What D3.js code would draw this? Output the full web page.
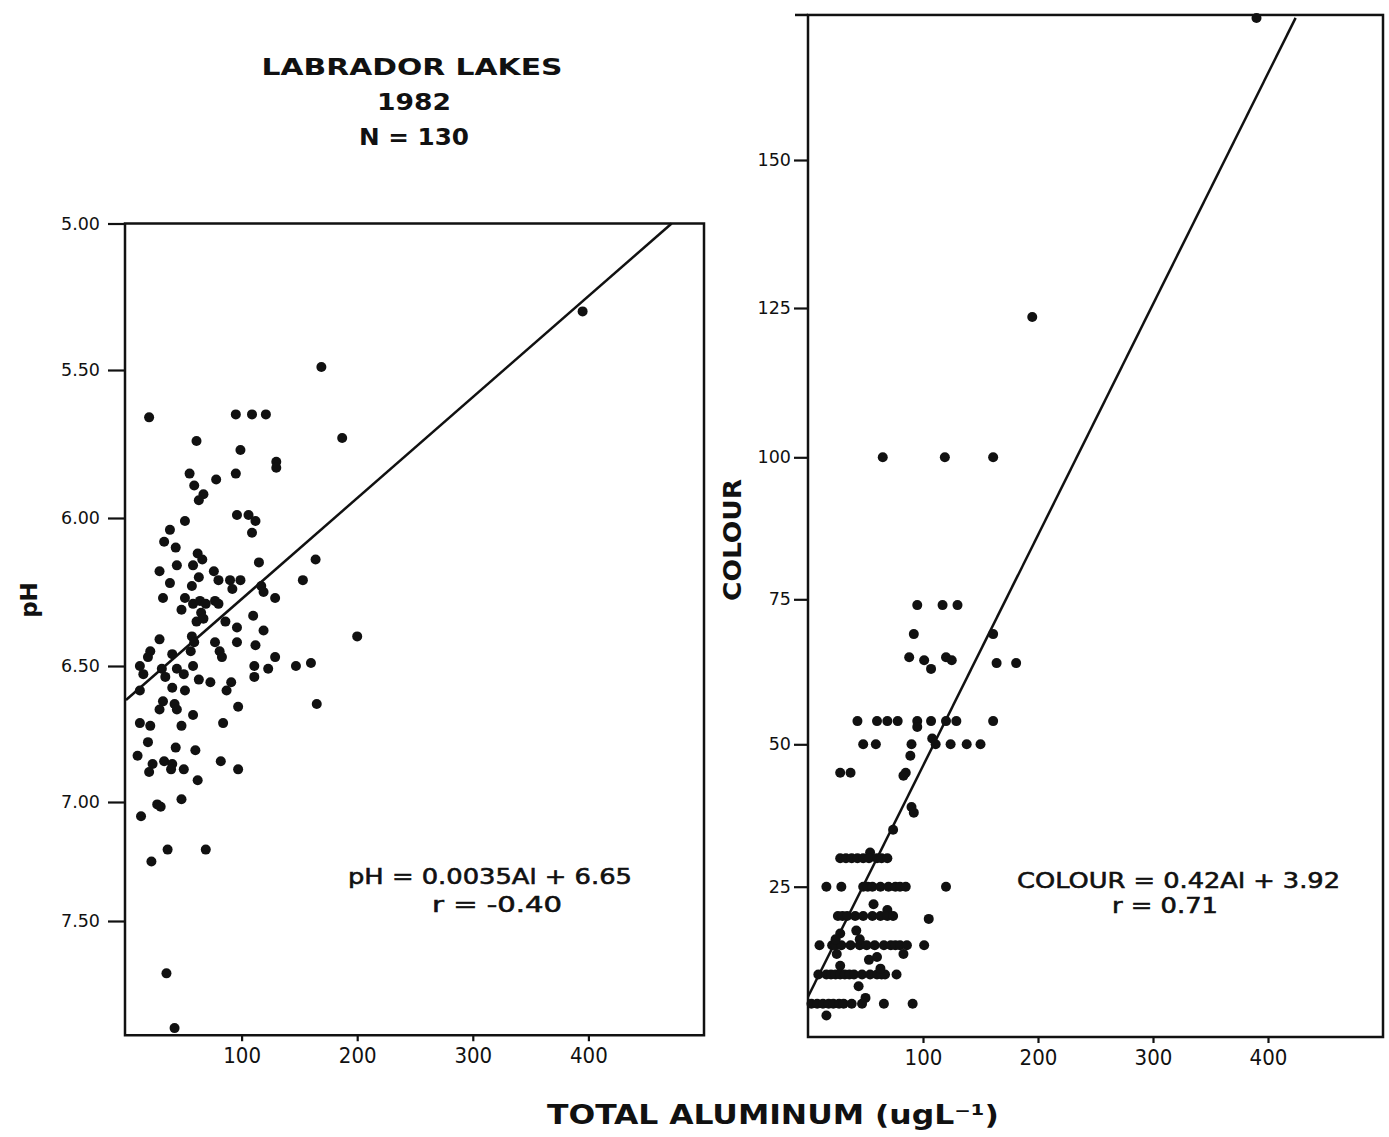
<!DOCTYPE html>
<html>
<head>
<meta charset="utf-8">
<script src="https://cdn.jsdelivr.net/npm/d3@7"></script>
<style>
  html, body { margin: 0; padding: 0; background: #fff; }
  svg { display: block; }
  .tick text { font-family: "DejaVu Sans", sans-serif; fill: #111; }
  .tick line { stroke: #111; stroke-width: 2.2; }
</style>
</head>
<body>
<svg id="chart" width="1389" height="1137"></svg>
<script>
// ---------------- DATA ----------------
const titleLines = ["LABRADOR LAKES", "1982", "N = 130"];
const phTicks = [5.00, 5.50, 6.00, 6.50, 7.00, 7.50];
const colourTicks = [25, 50, 75, 100, 125, 150];
const alTicks = [100, 200, 300, 400];

// [total aluminum (ug/L), pH]
const phPoints = [
  [169,5.49],[20,5.66],[95,5.65],[109,5.65],[121,5.65],[61,5.74],[187,5.73],[99,5.77],
  [130,5.81],[130,5.83],[55,5.85],[59,5.89],[78,5.87],[95,5.85],[67,5.92],[63,5.94],
  [51,6.01],[96,5.99],[106,5.99],[112,6.01],[109,6.05],[38,6.04],[33,6.08],[43,6.10],
  [62,6.12],[66,6.14],[58,6.16],[44,6.16],[115,6.15],[164,6.14],[29,6.18],[38,6.22],
  [63,6.20],[76,6.18],[80,6.21],[90,6.21],[99,6.21],[92,6.24],[117,6.23],[119,6.25],
  [153,6.21],[129,6.27],[57,6.23],[32,6.27],[51,6.27],[58,6.29],[64,6.28],[69,6.29],
  [77,6.28],[80,6.29],[48,6.31],[110,6.33],[65,6.32],[61,6.35],[67,6.34],[86,6.35],
  [96,6.37],[119,6.38],[200,6.40],[29,6.41],[57,6.40],[59,6.42],[77,6.42],[81,6.45],
  [83,6.47],[96,6.42],[112,6.43],[129,6.47],[21,6.45],[19,6.47],[40,6.46],[56,6.45],
  [12,6.50],[15,6.53],[31,6.51],[34,6.54],[44,6.51],[50,6.53],[58,6.50],[111,6.50],
  [111,6.54],[123,6.51],[147,6.50],[160,6.49],[63,6.55],[73,6.56],[91,6.56],[87,6.59],
  [12,6.59],[40,6.58],[51,6.59],[165,6.64],[97,6.65],[32,6.63],[29,6.66],[42,6.64],
  [44,6.66],[58,6.68],[12,6.71],[21,6.72],[48,6.72],[84,6.71],[19,6.78],[43,6.80],
  [60,6.81],[10,6.83],[33,6.85],[40,6.86],[39,6.88],[50,6.88],[23,6.86],[20,6.89],
  [82,6.85],[97,6.88],[62,6.92],[48,6.99],[27,7.01],[30,7.02],[13,7.06],[36,7.20],
  [69,7.20],[22,7.25],[35,7.72],[42,7.95],[395,5.30]
];

// [total aluminum (ug/L), colour]
const colourPoints = [
  [65,100],[119,100],[161,100],
  [95,74],[117,74],[130,74],
  [92,69],[161,69],
  [88,65],[101,64.5],[107,63],[120,65],[125,64.5],[164,64],[181,64],
  [43,54],[60,54],[69,54],[78,54],[95,54],[95,53],[107,54],[120,54],[129,54],[161,54],
  [48,50],[59,50],[90,50],[108,51],[111,50],[124,50],[138,50],[150,50],[89,48],
  [28,45],[37,45],[85,45],[83,44.5],
  [90,39],[92,38],
  [74,35],[54,31],
  [28,30],[33,30],[38,30],[43,30],[48,30],[53,30],[60,30],[64,30],[69,30],
  [16,25],[29,25],[48,25],[52,25],[56,25],[63,25],[70,25],[76,25],[80,25],[85,25],[120,25],
  [57,22],[69,21],
  [26,20],[30,20],[34,20],[41,20],[48,20],[56,20],[63,20],[69,20],[74,20],[105,19.5],
  [28,17],[42,17.5],
  [10,15],[21,15],[24,15],[29,15],[37,15],[45,15],[51,15],[58,15],[66,15],[72,15],[76,15],[80,15],[86,15],[101,15],
  [24,16],[25,13.5],[45,16],[53,12.5],[60,13],[83,13.5],
  [28,11.5],
  [9,10],[16,10],[20,10],[24,10],[28,10],[32,10],[36,10],[40,10],[47,10],[54,10],[60,10],[64,10],[67,10],[77,10],
  [63,11],
  [44,8],[50,6],
  [3,5],[8,5],[13,5],[18,5],[22,5],[27,5],[31,5],[38,5],[47,5],[66,5],[91,5],
  [16,3],
  [195,123.5],[390,174]
];

// regression lines as drawn [Al, value]
const phFit = [[0, 6.625], [472, 5.0]];
const colourFit = [[0, 6.2], [424, 174]];

const phEquation = ["pH = 0.0035Al + 6.65", "r = -0.40"];
const colourEquation = ["COLOUR = 0.42Al + 3.92", "r =  0.71"];
const xTitle = "TOTAL  ALUMINUM (ugL\u207B\u00B9)";

// ---------------- LAYOUT ----------------
const svg = d3.select("#chart");
const ink = "#111";
const sw = 2.5;
const dotR = 5;

// Left panel scales (piecewise to follow the drawn tick spacing)
const xL = d3.scaleLinear().domain([0, 500]).range([126, 704]);
const yL = d3.scaleLinear()
  .domain([5.0, 5.5, 6.0, 6.5, 7.0, 7.5, 8.0])
  .range([223.5, 370, 518, 666, 802, 921, 1040]);
const phBottom = 7.98;

// Right panel scales
const xR = d3.scaleLinear().domain([0, 500]).range([808, 1383]);
const yR = d3.scaleLinear()
  .domain([0, 25, 50, 75, 100, 125, 150, 175])
  .range([1033, 886.7, 744.3, 599.3, 457.3, 308, 160, 12]);
const colourTop = 174.5;

function frame(g, x0, x1, y0, y1) {
  g.append("rect")
    .attr("x", x0).attr("y", y0)
    .attr("width", x1 - x0).attr("height", y1 - y0)
    .attr("fill", "none").attr("stroke", ink).attr("stroke-width", sw);
}

// ----- Left panel -----
const gL = svg.append("g");
frame(gL, xL(0) - 1, xL(500), yL(5.0), yL(phBottom));

const axL = gL.append("g")
  .attr("transform", `translate(${xL(0) - 1},0)`)
  .call(d3.axisLeft(yL).tickValues(phTicks).tickFormat(d3.format(".2f"))
        .tickSize(17).tickPadding(8));
axL.select(".domain").remove();
axL.selectAll("text").style("font-size", "17.5px");

const axLB = gL.append("g")
  .attr("transform", `translate(0,${yL(phBottom)})`)
  .call(d3.axisBottom(xL).tickValues(alTicks).tickFormat(d3.format("d"))
        .tickSize(6).tickPadding(6));
axLB.select(".domain").remove();
axLB.selectAll("text").style("font-size", "22px")
  .style("font-family", "'Liberation Sans Narrow', 'DejaVu Sans Condensed', sans-serif");

gL.append("line")
  .attr("x1", xL(phFit[0][0])).attr("y1", yL(phFit[0][1]))
  .attr("x2", xL(phFit[1][0])).attr("y2", yL(phFit[1][1]))
  .attr("stroke", ink).attr("stroke-width", sw);

gL.selectAll("circle.pt").data(phPoints).join("circle")
  .attr("class", "pt")
  .attr("cx", d => xL(d[0])).attr("cy", d => yL(d[1]))
  .attr("r", dotR).attr("fill", ink);

gL.append("text")
  .attr("x", 30).attr("y", 600)
  .attr("transform", "rotate(-90,30,600)")
  .attr("text-anchor", "middle").attr("dominant-baseline", "middle")
  .style("font-family", "'DejaVu Sans', sans-serif").style("font-weight", "bold")
  .style("font-size", "23px").attr("fill", ink)
  .text("pH");

const eqL = gL.append("g").style("font-family", "'DejaVu Sans', sans-serif")
  .style("font-size", "22px").attr("fill", ink)
  .attr("stroke", ink).attr("stroke-width", 0.6);
eqL.append("text").attr("x", 348).attr("y", 884)
  .attr("textLength", 284).attr("lengthAdjust", "spacingAndGlyphs").text(phEquation[0]);
eqL.append("text").attr("x", 432).attr("y", 912)
  .attr("textLength", 130).attr("lengthAdjust", "spacingAndGlyphs").text(phEquation[1]);

// ----- Right panel -----
const gR = svg.append("g");
frame(gR, xR(0), xR(500), yR(colourTop), yR(0) + 4);
gR.append("line").attr("x1", 795).attr("x2", xR(0))
  .attr("y1", yR(colourTop)).attr("y2", yR(colourTop))
  .attr("stroke", ink).attr("stroke-width", sw);

const axR = gR.append("g")
  .attr("transform", `translate(${xR(0)},0)`)
  .call(d3.axisLeft(yR).tickValues(colourTicks).tickFormat(d3.format("d"))
        .tickSize(14).tickPadding(3));
axR.select(".domain").remove();
axR.selectAll("text").style("font-size", "17.5px");

const axRB = gR.append("g")
  .attr("transform", `translate(0,${yR(0) + 4})`)
  .call(d3.axisBottom(xR).tickValues(alTicks).tickFormat(d3.format("d"))
        .tickSize(6).tickPadding(6));
axRB.select(".domain").remove();
axRB.selectAll("text").style("font-size", "22px")
  .style("font-family", "'Liberation Sans Narrow', 'DejaVu Sans Condensed', sans-serif");

gR.append("line")
  .attr("x1", xR(colourFit[0][0])).attr("y1", yR(colourFit[0][1]))
  .attr("x2", xR(colourFit[1][0])).attr("y2", yR(colourFit[1][1]))
  .attr("stroke", ink).attr("stroke-width", sw);

gR.selectAll("circle.pt").data(colourPoints).join("circle")
  .attr("class", "pt")
  .attr("cx", d => xR(d[0])).attr("cy", d => yR(d[1]))
  .attr("r", dotR).attr("fill", ink);

gR.append("text")
  .attr("x", 734).attr("y", 540)
  .attr("transform", "rotate(-90,734,540)")
  .attr("text-anchor", "middle").attr("dominant-baseline", "middle")
  .style("font-family", "'DejaVu Sans Condensed', 'DejaVu Sans', sans-serif").style("font-weight", "bold")
  .style("font-size", "24px").attr("fill", ink)
  .attr("textLength", 122).attr("lengthAdjust", "spacingAndGlyphs")
  .text("COLOUR");

const eqR = gR.append("g").style("font-family", "'DejaVu Sans', sans-serif")
  .style("font-size", "22px").attr("fill", ink)
  .attr("stroke", ink).attr("stroke-width", 0.6);
eqR.append("text").attr("x", 1017).attr("y", 888)
  .attr("textLength", 323).attr("lengthAdjust", "spacingAndGlyphs").text(colourEquation[0]);
eqR.append("text").attr("x", 1112).attr("y", 913)
  .attr("textLength", 106).attr("lengthAdjust", "spacingAndGlyphs").text(colourEquation[1]);

// ----- Titles -----
const tg = svg.append("g").style("font-family", "'DejaVu Sans', sans-serif")
  .style("font-weight", "bold").style("font-size", "23px").attr("fill", ink)
  .attr("text-anchor", "middle");
tg.append("text").attr("x", 412).attr("y", 75)
  .attr("textLength", 301).attr("lengthAdjust", "spacingAndGlyphs").text(titleLines[0]);
tg.append("text").attr("x", 414).attr("y", 110)
  .attr("textLength", 74).attr("lengthAdjust", "spacingAndGlyphs").text(titleLines[1]);
tg.append("text").attr("x", 414).attr("y", 145)
  .attr("textLength", 110).attr("lengthAdjust", "spacingAndGlyphs").text(titleLines[2]);

svg.append("text").attr("x", 773).attr("y", 1124)
  .attr("text-anchor", "middle")
  .style("font-family", "'DejaVu Sans Condensed', 'DejaVu Sans', sans-serif")
  .style("font-weight", "bold").style("font-size", "27px").attr("fill", ink)
  .attr("textLength", 452).attr("lengthAdjust", "spacingAndGlyphs")
  .text(xTitle);
</script>
</body>
</html>
